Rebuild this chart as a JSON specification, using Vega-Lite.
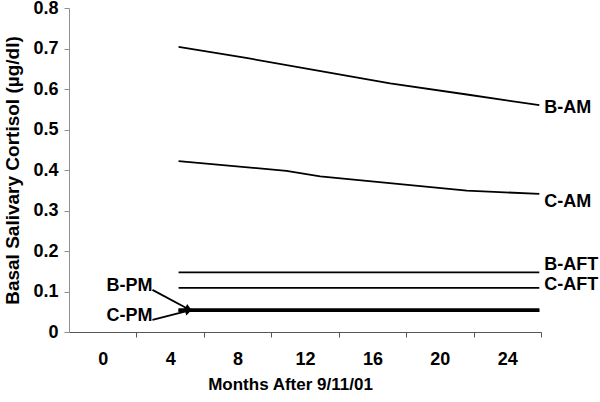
{
  "$schema": "https://vega.github.io/schema/vega-lite/v6.json",
  "autosize": "none",
  "width": 472,
  "height": 324,
  "padding": {"left": 69, "top": 8, "right": 59, "bottom": 70},
  "background": "white",
  "config": {
    "view": {"stroke": null},
    "font": "Liberation Sans"
  },
  "datasets": {
    "lines": [
      {"series": "B-AM", "month": 4.5, "value": 0.704},
      {"series": "B-AM", "month": 8.6, "value": 0.676},
      {"series": "B-AM", "month": 13.1, "value": 0.643},
      {"series": "B-AM", "month": 17.05, "value": 0.614},
      {"series": "B-AM", "month": 21.5, "value": 0.587},
      {"series": "B-AM", "month": 25.9, "value": 0.560},
      {"series": "C-AM", "month": 4.5, "value": 0.422},
      {"series": "C-AM", "month": 10.9, "value": 0.398},
      {"series": "C-AM", "month": 12.9, "value": 0.384},
      {"series": "C-AM", "month": 21.6, "value": 0.349},
      {"series": "C-AM", "month": 25.9, "value": 0.341},
      {"series": "B-AFT", "month": 4.5, "value": 0.147},
      {"series": "B-AFT", "month": 25.9, "value": 0.147},
      {"series": "C-AFT", "month": 4.5, "value": 0.109},
      {"series": "C-AFT", "month": 25.9, "value": 0.109},
      {"series": "B-PM", "month": 4.5, "value": 0.054},
      {"series": "B-PM", "month": 25.9, "value": 0.054},
      {"series": "C-PM", "month": 4.5, "value": 0.054},
      {"series": "C-PM", "month": 25.9, "value": 0.054}
    ],
    "labels": [
      {"label": "B-AM", "month": 26.2, "value": 0.553, "side": "right"},
      {"label": "C-AM", "month": 26.2, "value": 0.322, "side": "right"},
      {"label": "B-AFT", "month": 26.2, "value": 0.165, "side": "right"},
      {"label": "C-AFT", "month": 26.2, "value": 0.116, "side": "right"},
      {"label": "B-PM", "month": 2.95, "value": 0.114, "side": "left"},
      {"label": "C-PM", "month": 2.95, "value": 0.040, "side": "left"}
    ],
    "arrows": [
      {"series": "B-PM", "month": 2.95, "value": 0.104, "month2": 5.1, "value2": 0.056},
      {"series": "C-PM", "month": 2.95, "value": 0.030, "month2": 5.1, "value2": 0.053}
    ]
  },
  "layer": [
    {
      "data": {"name": "lines"},
      "transform": [{"filter": "datum.series !== 'B-PM' && datum.series !== 'C-PM'"}],
      "mark": {"type": "line", "color": "black", "strokeWidth": 1.8},
      "encoding": {
        "x": {
          "field": "month", "type": "quantitative",
          "scale": {"domain": [-2, 26], "nice": false, "zero": false},
          "axis": {
            "title": "Months After 9/11/01",
            "titleX": 221,
            "titleAnchor": null,
            "values": [0, 4, 8, 12, 16, 20, 24],
            "format": "d",
            "tickOffset": 33.71,
            "labelOffset": -33.71,
            "grid": false,
            "domainColor": "#555555",
            "tickColor": "#555555",
            "tickSize": 5,
            "labelFont": "Liberation Sans",
            "labelFontSize": 18,
            "labelFontWeight": "bold",
            "labelColor": "black",
            "labelPadding": 13,
            "labelFlush": false,
            "labelOverlap": false,
            "titleFont": "Liberation Sans",
            "titleFontSize": 17,
            "titleFontWeight": "bold",
            "titleColor": "black",
            "titlePadding": 8
          }
        },
        "y": {
          "field": "value", "type": "quantitative",
          "scale": {"domain": [0, 0.8], "nice": false},
          "axis": {
            "title": "Basal Salivary Cortisol (µg/dl)",
            "values": [0, 0.1, 0.2, 0.3, 0.4, 0.5, 0.6, 0.7, 0.8],
            "format": "~g",
            "grid": false,
            "domainColor": "#909090",
            "tickColor": "#909090",
            "tickSize": 5,
            "labelFont": "Liberation Sans",
            "labelFontSize": 18,
            "labelFontWeight": "bold",
            "labelColor": "black",
            "labelPadding": 6,
            "labelFlush": false,
            "labelOverlap": false,
            "titleFont": "Liberation Sans",
            "titleFontSize": 19,
            "titleFontWeight": "bold",
            "titleColor": "black",
            "titlePadding": 10
          }
        },
        "detail": {"field": "series"}
      }
    },
    {
      "data": {"name": "lines"},
      "transform": [{"filter": "datum.series === 'B-PM' || datum.series === 'C-PM'"}],
      "mark": {"type": "line", "color": "black", "strokeWidth": 3.5},
      "encoding": {
        "x": {"field": "month", "type": "quantitative"},
        "y": {"field": "value", "type": "quantitative"},
        "detail": {"field": "series"}
      }
    },
    {
      "data": {"name": "arrows"},
      "mark": {"type": "rule", "color": "black", "strokeWidth": 1.8},
      "encoding": {
        "x": {"field": "month", "type": "quantitative"},
        "y": {"field": "value", "type": "quantitative"},
        "x2": {"field": "month2"},
        "y2": {"field": "value2"}
      }
    },
    {
      "data": {"name": "arrows"},
      "transform": [{"filter": "datum.series === 'B-PM'"}],
      "mark": {"type": "point", "shape": "triangle-right", "filled": true, "color": "black", "size": 70, "opacity": 1, "angle": 25},
      "encoding": {
        "x": {"field": "month2", "type": "quantitative"},
        "y": {"field": "value2", "type": "quantitative"}
      }
    },
    {
      "data": {"name": "arrows"},
      "transform": [{"filter": "datum.series === 'C-PM'"}],
      "mark": {"type": "point", "shape": "triangle-right", "filled": true, "color": "black", "size": 70, "opacity": 1, "angle": -15},
      "encoding": {
        "x": {"field": "month2", "type": "quantitative"},
        "y": {"field": "value2", "type": "quantitative"}
      }
    },
    {
      "data": {"name": "labels"},
      "transform": [{"filter": "datum.side === 'right'"}],
      "mark": {"type": "text", "align": "left", "baseline": "middle", "font": "Liberation Sans", "fontSize": 18, "fontWeight": "bold", "color": "black"},
      "encoding": {
        "x": {"field": "month", "type": "quantitative"},
        "y": {"field": "value", "type": "quantitative"},
        "text": {"field": "label"}
      }
    },
    {
      "data": {"name": "labels"},
      "transform": [{"filter": "datum.side === 'left'"}],
      "mark": {"type": "text", "align": "right", "baseline": "middle", "font": "Liberation Sans", "fontSize": 18, "fontWeight": "bold", "color": "black"},
      "encoding": {
        "x": {"field": "month", "type": "quantitative"},
        "y": {"field": "value", "type": "quantitative"},
        "text": {"field": "label"}
      }
    }
  ]
}
